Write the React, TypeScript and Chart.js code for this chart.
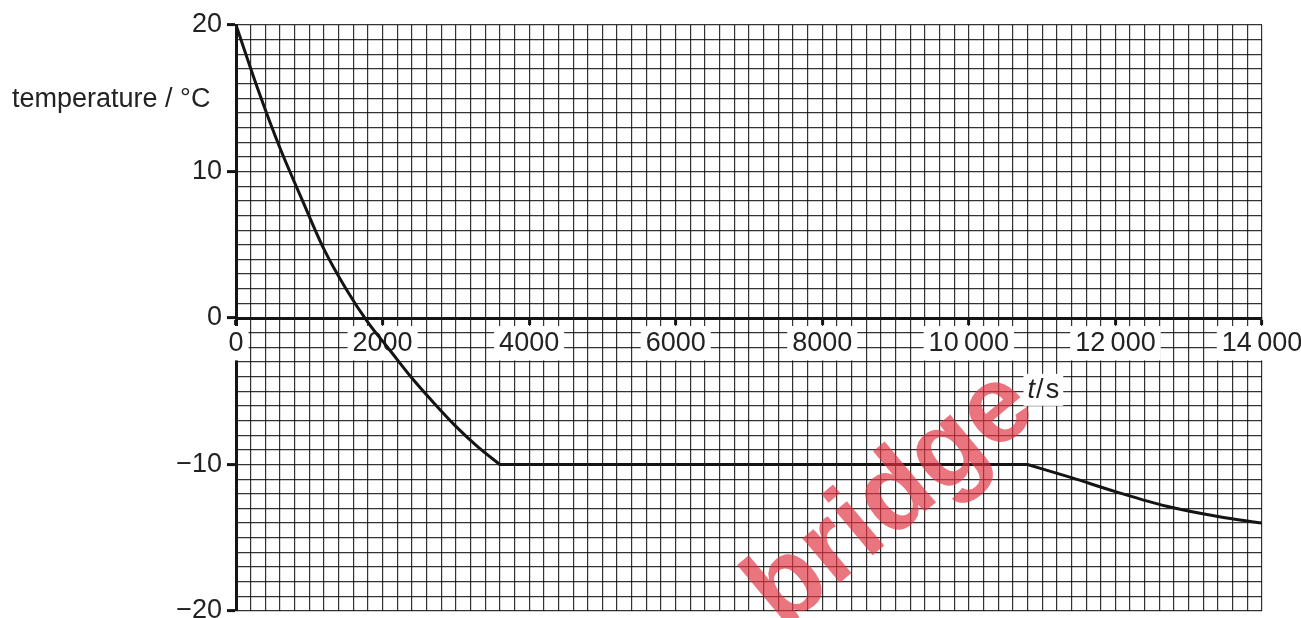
import React, { useEffect, useRef } from 'react';
import { Chart, registerables } from 'chart.js';

Chart.register(...registerables);

// Cooling of liquid
const coolingTimes = [0, 300, 600, 900, 1200, 1500, 1800, 2100, 2400, 2700, 3000, 3300, 3600];
const coolingTemps = [20, 15.6, 11.6, 8.1, 4.7, 2.0, -0.3, -2.2, -4.1, -5.8, -7.4, -8.8, -10];
// Freezing plateau
const plateauTimes = [3600, 10800];
const plateauTemps = [-10, -10];
// Cooling of solid
const solidTimes = [10800, 11400, 12000, 12700, 13400, 14000];
const solidTemps = [-10, -10.9, -11.85, -12.85, -13.55, -14.0];

const xMajorValues = [0, 2000, 4000, 6000, 8000, 10000, 12000, 14000];
const xMajorLabels = ['0', '2000', '4000', '6000', '8000', '10\u2009000', '12\u2009000', '14\u2009000'];
const yMajorValues = [20, 10, 0, -10, -20];
const yMajorLabels = ['20', '10', '0', '\u221210', '\u221220'];

const yAxisTitle = 'temperature / °C';
const xAxisTitleItalic = 't';
const xAxisTitleRest = '/\u200As';
const watermarkText = 'bridge';

const FONT = '"Liberation Sans", Arial, sans-serif';
const GRID = 'rgba(0,0,0,0.8)';
const INK = '#141414';

const toPoints = (xs: number[], ys: number[]) => xs.map((x, i) => ({ x, y: ys[i] }));

const textPlugin = {
  id: 'extraText',
  afterDraw(chart: any) {
    const ctx = chart.ctx as CanvasRenderingContext2D;
    const xs = chart.scales.x;
    const ys = chart.scales.y;
    ctx.save();
    // y title
    ctx.font = `27px ${FONT}`;
    ctx.fillStyle = '#222';
    ctx.textAlign = 'left';
    ctx.textBaseline = 'alphabetic';
    ctx.fillText(yAxisTitle, 12, 107);

    // x title with white backdrop
    const tx = xs.getPixelForValue(10800);
    const ty = ys.getPixelForValue(-5.45);
    ctx.font = `italic 27px ${FONT}`;
    const w1 = ctx.measureText(xAxisTitleItalic).width;
    ctx.font = `27px ${FONT}`;
    const w2 = ctx.measureText(xAxisTitleRest).width;
    ctx.fillStyle = '#fff';
    ctx.fillRect(tx - 4, ty - 24, w1 + w2 + 9, 32);

    // watermark
    ctx.save();
    ctx.translate(892, 500);
    ctx.rotate((-40 * Math.PI) / 180);
    ctx.font = `bold 110px ${FONT}`;
    ctx.fillStyle = 'rgba(226, 52, 66, 0.68)';
    ctx.textAlign = 'center';
    ctx.textBaseline = 'alphabetic';
    ctx.fillText(watermarkText, 0, 30);
    ctx.restore();

    ctx.fillStyle = '#222';
    ctx.textAlign = 'left';
    ctx.font = `italic 27px ${FONT}`;
    ctx.fillText(xAxisTitleItalic, tx, ty);
    ctx.font = `27px ${FONT}`;
    ctx.fillText(xAxisTitleRest, tx + w1 + 1, ty);
    ctx.restore();
  },
};

export default function App() {
  const canvasRef = useRef<HTMLCanvasElement | null>(null);

  useEffect(() => {
    const canvas = canvasRef.current;
    if (!canvas) return;
    const lineStyle = {
      borderColor: INK,
      borderWidth: 3,
      pointRadius: 0,
      fill: false,
      cubicInterpolationMode: 'monotone' as const,
    };
    const chart = new Chart(canvas, {
      type: 'line',
      data: {
        datasets: [
          { ...lineStyle, data: toPoints(coolingTimes, coolingTemps) },
          { ...lineStyle, data: toPoints(plateauTimes, plateauTemps) },
          { ...lineStyle, data: toPoints(solidTimes, solidTemps) },
        ],
      },
      options: {
        animation: false,
        responsive: false,
        devicePixelRatio: 1,
        layout: { padding: { left: 0, right: 39, top: 25, bottom: 7 } },
        plugins: { legend: { display: false }, tooltip: { enabled: false } },
        scales: {
          x: {
            type: 'linear',
            min: 0,
            max: 14000,
            position: { y: 0 } as any,
            afterFit: (s: any) => {
              s.paddingLeft = 0;
              s.paddingRight = 0;
            },
            ticks: {
              stepSize: 200,
              autoSkip: false,
              maxRotation: 0,
              minRotation: 0,
              padding: 4,
              color: '#222',
              font: { family: FONT, size: 27 },
              callback: (v: any) => {
                const i = xMajorValues.indexOf(Number(v));
                return i >= 0 ? xMajorLabels[i] : '';
              },
              showLabelBackdrop: (c: any) => xMajorValues.includes(c.tick?.value),
              backdropColor: '#ffffff',
              backdropPadding: { x: 5, y: 1 },
              z: 0,
            } as any,
            grid: {
              color: GRID,
              lineWidth: 1.2,
              tickLength: 5,
              tickWidth: 3,
              tickColor: (c: any) => (xMajorValues.includes(c.tick?.value) ? INK : 'rgba(0,0,0,0)'),
              z: -2,
            } as any,
            border: { display: true, color: INK, width: 3, z: -1 } as any,
          },
          y: {
            type: 'linear',
            min: -20,
            max: 20,
            position: 'left',
            afterFit: (s: any) => {
              s.width = 236;
              s.paddingTop = 0;
              s.paddingBottom = 0;
            },
            ticks: {
              stepSize: 1,
              autoSkip: false,
              padding: 5,
              color: '#222',
              font: { family: FONT, size: 27 },
              callback: (v: any) => {
                const i = yMajorValues.indexOf(Number(v));
                return i >= 0 ? yMajorLabels[i] : '';
              },
              z: 0,
            } as any,
            grid: {
              color: GRID,
              lineWidth: 1.2,
              tickLength: 9,
              tickWidth: 3,
              tickColor: (c: any) => (yMajorValues.includes(c.tick?.value) ? INK : 'rgba(0,0,0,0)'),
              z: -2,
            } as any,
            border: { display: true, color: INK, width: 3, z: -1 } as any,
          },
        },
      },
      plugins: [textPlugin],
    });
    return () => chart.destroy();
  }, []);

  return (
    <div style={{ position: 'absolute', left: 0, top: 0, width: 1301, height: 618, background: '#fff' }}>
      <canvas ref={canvasRef} width={1301} height={618} style={{ display: 'block' }} />
    </div>
  );
}
